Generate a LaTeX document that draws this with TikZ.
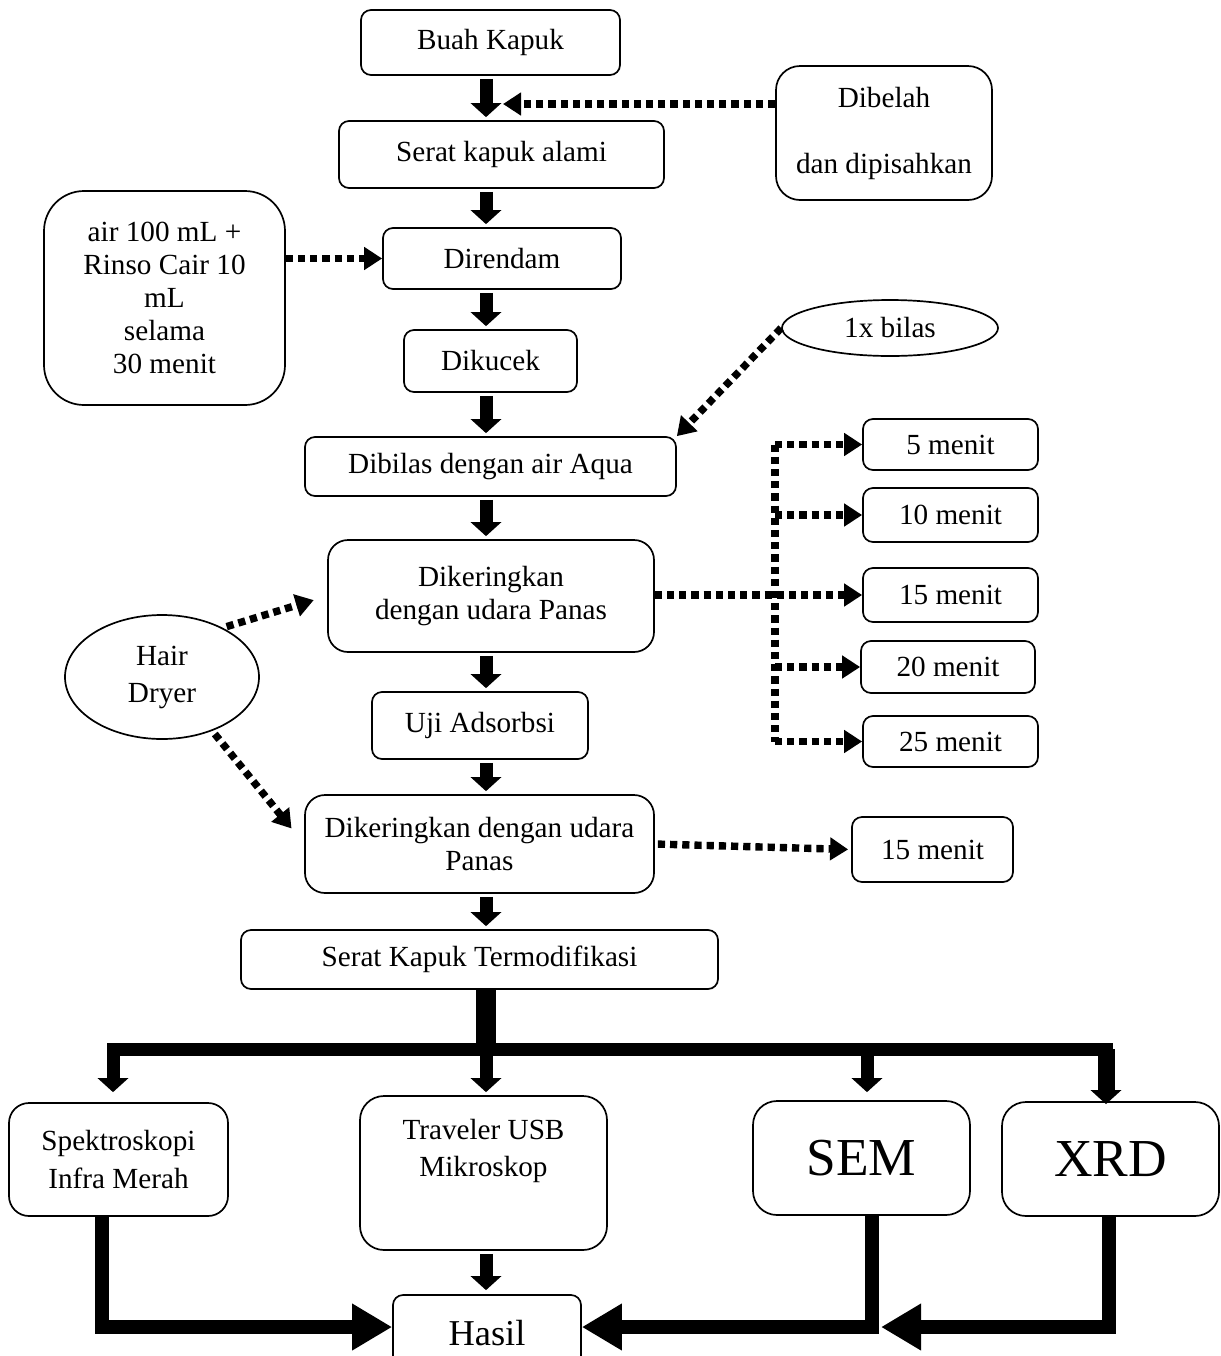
\documentclass[tikz,border=0pt]{standalone}
\usepackage{fontspec}
\setmainfont{Liberation Serif}
\usetikzlibrary{arrows.meta,shapes.geometric}
\newcommand{\fs}{\fontsize{14.6}{16.5}\selectfont}
\tikzset{
  box/.style={draw,line width=0.85pt,rounded corners=5pt,inner sep=0pt,align=center,font=\fs},
  oval/.style={draw,ellipse,line width=0.85pt,inner sep=0pt,align=center,font=\fs},
  bigarrow/.style={line width=6.5pt,-{Triangle[width=15pt,length=7pt]}},
  fatline/.style={line width=6.5pt},
  endarrow/.style={line width=6.8pt,-{Triangle[width=22pt,length=20pt]}},
  dotline/.style={line width=3.7pt,dash pattern=on 3.6pt off 2.5pt},
  dotarrow/.style={dotline,-{Triangle[width=11pt,length=9pt]}}
}
\begin{document}
\begin{tikzpicture}[x=0.5pt,y=-0.5pt]
  \useasboundingbox (0,0) rectangle (1221,1356);
  \node[box,minimum width=129.5pt,minimum height=32.5pt] (buah) at (490.5,42.5) {Buah Kapuk};
  \node[box,rounded corners=12pt,minimum width=108pt,minimum height=67pt] (dibelah) at (884,133) {Dibelah\\[16.5pt]dan dipisahkan};
  \node[box,minimum width=162.5pt,minimum height=33.5pt] (serat) at (501.5,154.5) {Serat kapuk alami};
  \node[box,rounded corners=20pt,minimum width=120.5pt,minimum height=107pt] (air) at (164.5,298) {air 100 mL +\\Rinso Cair 10\\mL\\selama\\30 menit};
  \node[box,minimum width=119pt,minimum height=30.5pt] (direndam) at (502,258.5) {Direndam};
  \node[box,minimum width=86.5pt,minimum height=31pt] (dikucek) at (490.5,361) {Dikucek};
  \node[oval,minimum width=108pt,minimum height=28pt] (bilas) at (890,328) {1x bilas};
  \node[box,minimum width=185.5pt,minimum height=29.5pt] (dibilas) at (490.5,466.5) {Dibilas dengan air Aqua};
  \node[box,rounded corners=10pt,minimum width=163pt,minimum height=56pt] (kering1) at (491,596) {Dikeringkan\\dengan udara Panas};
  \node[oval,minimum width=97pt,minimum height=62pt] (hair) at (162,677) {Hair\\[2pt]Dryer};
  \node[box,minimum width=108pt,minimum height=33.5pt] (uji) at (480,725.5) {Uji Adsorbsi};
  \node[box,rounded corners=10pt,minimum width=174.5pt,minimum height=49pt] (kering2) at (479.5,844) {Dikeringkan dengan udara\\Panas};
  \node[box,minimum width=87.5pt,minimum height=25.5pt] (m5) at (950.5,444.5) {5 menit};
  \node[box,minimum width=87.5pt,minimum height=27pt] (m10) at (950.5,515) {10 menit};
  \node[box,minimum width=87.5pt,minimum height=27pt] (m15) at (950.5,595) {15 menit};
  \node[box,minimum width=87pt,minimum height=26pt] (m20) at (948,667) {20 menit};
  \node[box,minimum width=87.5pt,minimum height=25.5pt] (m25) at (950.5,741.5) {25 menit};
  \node[box,minimum width=80.5pt,minimum height=32.5pt] (m15b) at (932.5,849.5) {15 menit};
  \node[box,minimum width=238.5pt,minimum height=29.5pt] (termod) at (479.5,959.5) {Serat Kapuk Termodifikasi};
  \node[box,rounded corners=10pt,minimum width=109.5pt,minimum height=56.5pt] (spektro) at (118.5,1159.5) {Spektroskopi\\[2.5pt]Infra Merah};
  \node[box,rounded corners=12pt,minimum width=123.5pt,minimum height=77pt] (traveler) at (483.5,1173) {Traveler USB\\[2pt]Mikroskop\\[9pt]\mbox{}};
  \node[box,rounded corners=12pt,minimum width=108.5pt,minimum height=57pt,font=\fontsize{26.7}{30}\selectfont] (sem) at (861.5,1158) {SEM};
  \node[box,rounded corners=12pt,minimum width=108.5pt,minimum height=57pt,font=\fontsize{26.7}{30}\selectfont] (xrd) at (1110.5,1159) {XRD};
  \node[box,minimum width=94pt,minimum height=38.5pt,font=\fontsize{18.2}{20}\selectfont] (hasil) at (487,1333.5) {Hasil};
  \coordinate (axis) at (486,0);
  \foreach \a/\b in {buah/serat,serat/direndam,direndam/dikucek,dikucek/dibilas,dibilas/kering1,kering1/uji,uji/kering2,kering2/termod}
    \draw[bigarrow,shorten <=1.5pt,shorten >=1.5pt] (\a.south -| axis) -- (\b.north -| axis);
  \coordinate (cut) at (503,104);
  \draw[dotarrow] (dibelah.west |- cut) -- (cut);
  \draw[dotarrow] (air.east |- direndam.west) -- (direndam.west);
  \draw[dotarrow] (bilas.west) -- (dibilas.north east);
  \coordinate (split) at (775,0);
  \draw[dotline] (split |- m5.west) -- (split |- m25.west);
  \draw[dotarrow] (kering1.east |- m15.west) -- (m15.west);
  \foreach \m in {m5,m10,m20,m25}
    \draw[dotarrow] (split |- \m.west) -- (\m.west);
  \draw[dotarrow,shorten <=2pt,shorten >=7pt] (hair.39) -- (kering1.west);
  \draw[dotarrow,shorten <=2pt,shorten >=10pt] (hair.-47) -- (kering2.west);
  \draw[dotarrow,shorten <=1.5pt,shorten >=1.5pt] (kering2.east) -- (m15b.west);
  \coordinate (dropA) at (113,1049);
  \coordinate (dropB) at (486,1049);
  \coordinate (dropC) at (867,1049);
  \coordinate (dropD) at (1106,1049);
  \draw[line width=10pt] (termod.south -| dropB) -- (dropB);
  \draw[fatline,line cap=rect] (dropA) -- (dropD);
  \draw[bigarrow,shorten >=5pt] (dropA) -- (spektro.north -| dropA);
  \draw[bigarrow,shorten >=1.5pt] (dropB) -- (traveler.north -| dropB);
  \draw[bigarrow,shorten >=4pt] (dropC) -- (sem.north -| dropC);
  \draw[bigarrow,line width=8.5pt,shorten >=-1.5pt] (dropD) -- (xrd.north -| dropD);
  \coordinate (outA) at (102,1327);
  \coordinate (outC) at (872,1327);
  \coordinate (outD) at (1109,1327);
  \coordinate (tipD) at (881,1327);
  \draw[endarrow] (spektro.south -| outA) -- (outA) -- (hasil.west |- outA);
  \draw[endarrow] (sem.south -| outC) -- (outC) -- (hasil.east |- outC);
  \draw[endarrow] (xrd.south -| outD) -- (outD) -- (tipD);
  \draw[bigarrow,shorten <=1.5pt,shorten >=2pt] (traveler.south -| dropB) -- (hasil.north -| dropB);
\end{tikzpicture}
\end{document}
